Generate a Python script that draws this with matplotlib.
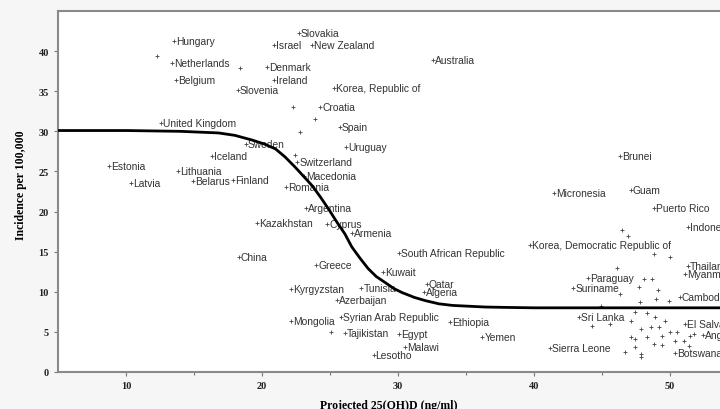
import matplotlib
matplotlib.use("Agg")
import matplotlib.pyplot as plt

# labelled countries: projected 25(OH)D (ng/ml) and incidence per 100,000
countries = ["Hungary", "Netherlands", "Belgium", "Slovakia", "Israel", "New Zealand",
             "Australia", "Denmark", "Ireland", "Slovenia", "Korea, Republic of", "Croatia",
             "Spain", "United Kingdom", "Uruguay", "Sweden", "Iceland", "Switzerland",
             "Macedonia", "Romania", "Finland", "Lithuania", "Belarus", "Estonia", "Latvia",
             "Argentina", "Kazakhstan", "Cyprus", "Armenia", "China", "Greece",
             "South African Republic", "Kuwait", "Kyrgyzstan", "Tunisia", "Qatar", "Algeria",
             "Azerbaijan", "Syrian Arab Republic", "Mongolia", "Tajikistan", "Egypt", "Malawi",
             "Lesotho", "Ethiopia", "Yemen", "Micronesia", "Brunei", "Guam", "Puerto Rico",
             "Indonesia", "Korea, Democratic Republic of", "Thailand", "Myanmar", "Paraguay",
             "Suriname", "Cambodia", "Sri Lanka", "El Salvador", "Angola", "Botswana",
             "Sierra Leone"]
vitd = [13.5, 13.4, 13.7, 22.7, 20.9, 23.7,
        32.6, 20.4, 20.9, 18.2, 25.3, 24.3,
        25.7, 12.6, 26.2, 18.8, 16.3, 22.6,
        23.1, 21.8, 17.9, 13.8, 14.9, 8.75, 10.4,
        23.2, 19.6, 24.8, 26.6, 18.3, 24.0,
        30.1, 28.9, 22.1, 27.3, 32.1, 31.9,
        25.5, 25.8, 22.1, 26.1, 30.1, 30.5,
        28.2, 33.8, 36.2, 41.5, 46.3, 47.1, 48.8,
        51.3, 39.7, 51.3, 51.1, 44.0,
        42.9, 50.7, 43.3, 51.1, 52.4, 50.4,
        41.2]
incidence = [41.3, 38.5, 36.4, 42.3, 40.7, 40.7,
             38.9, 38.0, 36.4, 35.2, 35.4, 33.0,
             30.6, 31.0, 28.1, 28.4, 26.9, 26.2,
             24.4, 23.0, 23.9, 25.0, 23.8, 25.7, 23.5,
             20.5, 18.6, 18.4, 17.3, 14.3, 13.3,
             14.8, 12.5, 10.3, 10.5, 11.0, 10.0,
             9.0, 6.8, 6.4, 4.9, 4.7, 3.1,
             2.1, 6.2, 4.4, 22.3, 26.9, 22.7, 20.4,
             18.1, 15.8, 13.2, 12.2, 11.7,
             10.5, 9.3, 6.8, 6.0, 4.6, 2.4,
             3.0]

# unlabelled points
other_vitd = [12.3, 18.4, 22.3, 23.9, 22.8, 22.4, 25.1, 46.5, 46.9, 48.8, 50.0,
              46.1, 48.1, 48.7, 47.7, 49.1, 46.3, 49.0, 49.9, 47.8, 44.9, 47.4,
              48.3, 48.9, 49.6, 47.1, 44.3, 45.6, 47.9, 48.6, 49.2, 49.4, 50.0,
              50.5, 50.4, 51.0, 47.1, 47.4, 48.3, 48.8, 47.4, 46.7, 47.9, 47.9,
              49.4, 51.5, 51.8, 51.4]
other_inc = [39.4, 37.9, 33.0, 31.5, 29.9, 27.1, 5.0, 17.7, 16.9, 14.7, 14.3,
             13.0, 11.6, 11.6, 10.6, 10.2, 9.7, 9.1, 8.9, 8.7, 8.2, 7.5,
             7.4, 6.8, 6.4, 6.4, 5.7, 6.0, 5.4, 5.6, 5.6, 4.5, 5.0,
             5.0, 3.9, 3.9, 4.4, 4.1, 4.4, 3.5, 3.1, 2.5, 2.2, 1.9,
             3.4, 4.5, 4.7, 3.2]

# fitted curve
curve_x = [5, 10, 14, 16.8, 18, 19.3, 20.2, 21.0, 21.7, 22.4, 23.0, 23.7, 24.3, 24.9,
           25.5, 26.1, 26.6, 27.2, 27.8, 28.4, 29.1, 29.7, 30.3, 31.2, 32.0, 33.0,
           34.0, 35.2, 36.4, 38.0, 40.0, 44, 48, 52, 55]
curve_y = [30.1, 30.1, 30.0, 29.8, 29.5, 28.9, 28.4, 27.8, 26.8, 25.6, 24.5, 23.2, 21.8,
           20.3, 18.7, 17.2, 15.6, 14.2, 12.9, 11.9, 11.1, 10.4, 9.9, 9.3, 8.9, 8.5,
           8.3, 8.2, 8.1, 8.05, 8.0, 8.0, 8.0, 8.0, 8.0]

fig = plt.figure(figsize=(7.2, 4.1), dpi=100, facecolor="#f6f6f6")
# axes run past the right edge, as in the cropped original
ax = fig.add_axes([58 / 720, 37 / 410, 680 / 720, 361 / 410])
ax.set_facecolor("white")

ax.plot(other_vitd, other_inc, "+", ms=2.6, mew=0.6, color="#444444", zorder=2)
ax.plot(vitd, incidence, "+", ms=2.6, mew=0.6, color="#444444", zorder=2)
for name, xv, yv in zip(countries, vitd, incidence):
    ax.annotate(name, (xv, yv), xytext=(1.5, 0), textcoords="offset points",
                va="center", ha="left", fontsize=7.4, color="#333333",
                family="Liberation Sans", zorder=3)

ax.plot(curve_x, curve_y, color="black", lw=2, zorder=4)

ax.set_xlim(5, 55)
ax.set_ylim(0, 45)
ax.set_xticks([10, 20, 30, 40, 50])
ax.set_xticks([15, 25, 35, 45], minor=True)
ax.set_yticks([0, 5, 10, 15, 20, 25, 30, 35, 40])
ax.tick_params(direction="out", length=3, width=0.8, color="#777777",
               labelsize=7.5, labelcolor="#222222")
ax.tick_params(which="minor", direction="out", length=2, width=0.8, color="#777777")
for lab in ax.get_xticklabels() + ax.get_yticklabels():
    lab.set_family("Liberation Serif")
    lab.set_weight("bold")

for side in ["left", "bottom", "top"]:
    ax.spines[side].set_color("#8a8a8a")
    ax.spines[side].set_linewidth(1.5)
ax.spines["right"].set_visible(False)

ax.set_xlabel("Projected 25(OH)D (ng/ml)", family="Liberation Serif",
              fontweight="bold", fontsize=8.5)
ax.xaxis.set_label_coords((389 - 58) / 680, -0.075)
ax.set_ylabel("Incidence per 100,000", family="Liberation Serif",
              fontweight="bold", fontsize=8.5)
ax.yaxis.set_label_coords(-0.046, 0.52)

fig.savefig("out.png", dpi=100, facecolor=fig.get_facecolor())
